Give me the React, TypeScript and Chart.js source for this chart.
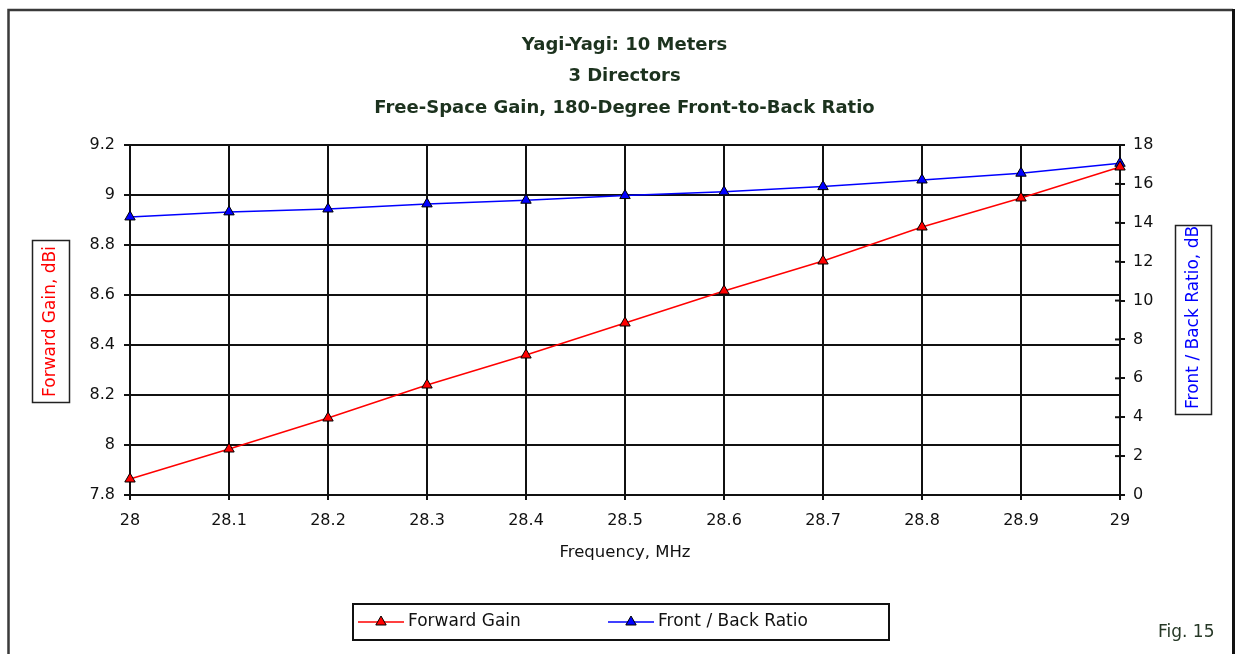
import React, { useEffect, useRef } from "react";
import { Chart, registerables } from "chart.js";

Chart.register(...registerables);

// ---- data ----
const FREQUENCIES = ["28", "28.1", "28.2", "28.3", "28.4", "28.5", "28.6", "28.7", "28.8", "28.9", "29"];
const FORWARD_GAIN = [7.864, 7.984, 8.108, 8.24, 8.36, 8.488, 8.616, 8.736, 8.872, 8.988, 9.112];
const FRONT_BACK = [14.3, 14.56, 14.71, 14.97, 15.16, 15.4, 15.59, 15.86, 16.2, 16.55, 17.06];
const GAIN_RANGE = [7.8, 9.2];
const GAIN_STEP = 0.2;
const FB_RANGE = [0, 18];
const FB_STEP = 2;

const TITLE_LINES = [
  "Yagi-Yagi: 10 Meters",
  "3 Directors",
  "Free-Space Gain, 180-Degree Front-to-Back Ratio",
];
const X_TITLE = "Frequency, MHz";
const Y_TITLE = "Forward Gain, dBi";
const Y1_TITLE = "Front / Back Ratio, dB";
const SERIES_NAMES = ["Forward Gain", "Front / Back Ratio"];
const FIG_LABEL = "Fig. 15";

const FONT = "'DejaVu Sans', 'Liberation Sans', Arial, sans-serif";
const RED = "#ff0000";
const BLUE = "#0000ff";
const GRID = "#111111";

function triangle(ctx: CanvasRenderingContext2D, x: number, y: number, r: number, fill: string) {
  ctx.beginPath();
  ctx.moveTo(x, y - r);
  ctx.lineTo(x + 0.866 * r, y + 0.5 * r);
  ctx.lineTo(x - 0.866 * r, y + 0.5 * r);
  ctx.closePath();
  ctx.fillStyle = fill;
  ctx.fill();
  ctx.lineWidth = 1;
  ctx.strokeStyle = "#000";
  ctx.stroke();
}

const decorPlugin = {
  id: "decor",
  beforeDraw(chart: any) {
    const ctx: CanvasRenderingContext2D = chart.ctx;
    ctx.save();
    ctx.fillStyle = "#ffffff";
    ctx.fillRect(0, 0, chart.width, chart.height);
    // outer frame
    ctx.strokeStyle = "#3a3a3a";
    ctx.lineWidth = 2.5;
    ctx.beginPath();
    ctx.moveTo(8.5, 660);
    ctx.lineTo(8.5, 10);
    ctx.lineTo(1233, 10);
    ctx.stroke();
    ctx.strokeStyle = "#111";
    ctx.lineWidth = 3;
    ctx.beginPath();
    ctx.moveTo(1233.5, 9);
    ctx.lineTo(1233.5, 660);
    ctx.stroke();
    ctx.restore();
  },
  afterDraw(chart: any) {
    const ctx: CanvasRenderingContext2D = chart.ctx;
    const area = chart.chartArea;
    ctx.save();

    // inner half of right axis ticks (crossing ticks)
    const y1 = chart.scales.y1;
    ctx.strokeStyle = GRID;
    ctx.lineWidth = 2;
    y1.ticks.forEach((t: any) => {
      const py = y1.getPixelForValue(t.value);
      ctx.beginPath();
      ctx.moveTo(area.right - 5, py);
      ctx.lineTo(area.right, py);
      ctx.stroke();
    });

    // title
    ctx.fillStyle = "#1c321e";
    ctx.font = `bold 18px ${FONT}`;
    ctx.textAlign = "center";
    ctx.textBaseline = "middle";
    TITLE_LINES.forEach((line, i) => {
      ctx.fillText(line, 624.5, 45 + i * 31.5);
    });

    // x axis title
    ctx.fillStyle = "#111";
    ctx.font = `16.5px ${FONT}`;
    ctx.fillText(X_TITLE, 625, 553);

    // left axis title box
    ctx.lineWidth = 1.5;
    ctx.strokeStyle = "#222";
    ctx.strokeRect(32.5, 240.5, 37, 162);
    ctx.save();
    ctx.translate(51, 321.5);
    ctx.rotate(-Math.PI / 2);
    ctx.fillStyle = RED;
    ctx.font = `17px ${FONT}`;
    ctx.textAlign = "center";
    ctx.textBaseline = "middle";
    ctx.fillText(Y_TITLE, 0, 0);
    ctx.restore();

    // right axis title box (text clipped by box top)
    ctx.strokeRect(1175.5, 225.5, 36, 189);
    ctx.save();
    ctx.beginPath();
    ctx.rect(1176, 226, 35, 188);
    ctx.clip();
    ctx.translate(1193.5, 409);
    ctx.rotate(-Math.PI / 2);
    ctx.fillStyle = BLUE;
    ctx.font = `17px ${FONT}`;
    ctx.textAlign = "left";
    ctx.textBaseline = "middle";
    ctx.fillText(Y1_TITLE, 0, 0);
    ctx.restore();

    // legend
    ctx.lineWidth = 2;
    ctx.strokeStyle = "#111";
    ctx.strokeRect(353, 604, 536, 36);
    const ly = 622;
    const items = [
      { color: RED, x0: 358, name: SERIES_NAMES[0] },
      { color: BLUE, x0: 608, name: SERIES_NAMES[1] },
    ];
    items.forEach((it) => {
      ctx.strokeStyle = it.color;
      ctx.lineWidth = 1.5;
      ctx.beginPath();
      ctx.moveTo(it.x0, ly);
      ctx.lineTo(it.x0 + 46, ly);
      ctx.stroke();
      triangle(ctx, it.x0 + 23, ly, 6, it.color);
      ctx.fillStyle = "#111";
      ctx.font = `17px ${FONT}`;
      ctx.textAlign = "left";
      ctx.textBaseline = "middle";
      ctx.fillText(it.name, it.x0 + 50, ly);
    });

    // figure label
    ctx.fillStyle = "#263826";
    ctx.font = `17px ${FONT}`;
    ctx.textAlign = "left";
    ctx.fillText(FIG_LABEL, 1158, 633);

    ctx.restore();
  },
};

export default function App() {
  const ref = useRef<HTMLCanvasElement>(null);

  useEffect(() => {
    const canvas = ref.current;
    if (!canvas) return;
    const tickFont = { family: FONT, size: 16 };
    const chart = new Chart(canvas, {
      type: "line",
      data: {
        labels: FREQUENCIES,
        datasets: [
          {
            label: SERIES_NAMES[0],
            data: FORWARD_GAIN,
            yAxisID: "y",
            borderColor: RED,
            borderWidth: 1.5,
            backgroundColor: RED,
            pointStyle: "triangle",
            pointRadius: 6,
            pointBackgroundColor: RED,
            pointBorderColor: "#000",
            pointBorderWidth: 1,
            tension: 0,
          },
          {
            label: SERIES_NAMES[1],
            data: FRONT_BACK,
            yAxisID: "y1",
            borderColor: BLUE,
            borderWidth: 1.5,
            backgroundColor: BLUE,
            pointStyle: "triangle",
            pointRadius: 6,
            pointBackgroundColor: BLUE,
            pointBorderColor: "#000",
            pointBorderWidth: 1,
            tension: 0,
          },
        ],
      },
      plugins: [decorPlugin],
      options: {
        responsive: false,
        animation: false,
        devicePixelRatio: 1,
        layout: { padding: { top: 145, left: 0, right: 0, bottom: 0 } },
        plugins: {
          legend: { display: false },
          title: { display: false },
          tooltip: { enabled: false },
        },
        scales: {
          x: {
            type: "category",
            offset: false,
            afterFit: (s: any) => {
              s.height = 159;
            },
            grid: { color: GRID, lineWidth: 2, tickLength: 5, drawTicks: true },
            border: { color: GRID, width: 2 },
            ticks: {
              font: tickFont,
              color: "#111",
              padding: 11,
              maxRotation: 0,
              autoSkip: false,
            },
          },
          y: {
            position: "left",
            min: GAIN_RANGE[0],
            max: GAIN_RANGE[1],
            afterFit: (s: any) => {
              s.width = 130;
            },
            grid: { color: GRID, lineWidth: 2, tickLength: 6 },
            border: { color: GRID, width: 2 },
            ticks: {
              stepSize: GAIN_STEP,
              font: tickFont,
              color: "#111",
              padding: 9,
              callback: (v: any) => String(Math.round(Number(v) * 10) / 10),
            },
          },
          y1: {
            position: "right",
            min: FB_RANGE[0],
            max: FB_RANGE[1],
            afterFit: (s: any) => {
              s.width = 118;
            },
            grid: { drawOnChartArea: false, color: GRID, lineWidth: 2, tickLength: 5 },
            border: { color: GRID, width: 2 },
            ticks: {
              stepSize: FB_STEP,
              font: tickFont,
              color: "#111",
              padding: 8,
            },
          },
        },
      },
    } as any);
    return () => chart.destroy();
  }, []);

  return (
    <div style={{ position: "absolute", left: 0, top: 0, width: 1238, height: 654, background: "#fff", overflow: "hidden" }}>
      <canvas ref={ref} width={1238} height={654} style={{ display: "block", width: 1238, height: 654 }} />
    </div>
  );
}
